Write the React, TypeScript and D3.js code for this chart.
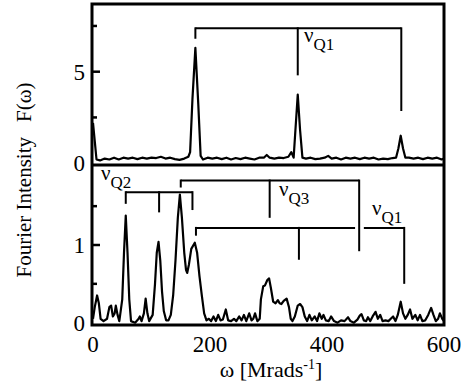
import * as d3 from 'd3';

// spectra: [omega, F]
const topSpectrum: [number, number][] = [
  [0, 2.2], [3, 1.2], [6, 0.2], [12, 0.15], [20, 0.25], [28, 0.2], [36, 0.3], [44, 0.2], [52, 0.3],
  [60, 0.25], [68, 0.3], [76, 0.22], [84, 0.3], [92, 0.25], [100, 0.3], [108, 0.28], [116, 0.35],
  [124, 0.25], [132, 0.3], [140, 0.22], [148, 0.18], [156, 0.25], [163, 0.35], [166, 0.6], [170, 3.5],
  [175, 6.3], [180, 3.2], [184, 0.4], [188, 0.2], [196, 0.3], [204, 0.25], [212, 0.3], [220, 0.22],
  [228, 0.3], [236, 0.2], [244, 0.28], [252, 0.22], [260, 0.3], [268, 0.25], [276, 0.2], [284, 0.3],
  [292, 0.3], [297, 0.45], [302, 0.3], [310, 0.25], [318, 0.3], [326, 0.28], [334, 0.35], [339, 0.6],
  [343, 0.3], [346, 1.8], [350, 3.75], [354, 1.8], [358, 0.3], [364, 0.25], [372, 0.3], [380, 0.22],
  [388, 0.25], [396, 0.3], [402, 0.4], [408, 0.25], [416, 0.3], [424, 0.2], [432, 0.3], [440, 0.25],
  [448, 0.3], [456, 0.22], [464, 0.3], [472, 0.25], [480, 0.3], [488, 0.2], [496, 0.25], [504, 0.22],
  [512, 0.28], [518, 0.3], [522, 0.8], [526, 1.5], [530, 0.8], [534, 0.3], [540, 0.3], [548, 0.25],
  [556, 0.3], [564, 0.22], [572, 0.3], [580, 0.25], [588, 0.3], [596, 0.2], [600, 0.25],
];

const bottomSpectrum: [number, number][] = [
  [0, 0.05], [3, 0.2], [7, 0.35], [10, 0.25], [13, 0.05], [18, 0.02], [24, 0.05], [28, 0.2], [31, 0.22],
  [34, 0.08], [37, 0.12], [39, 0.22], [42, 0.1], [45, 0.02], [50, 0.3], [53, 0.9], [56, 1.38], [59, 0.9],
  [62, 0.3], [65, 0.02], [72, 0.0], [78, 0.05], [80, 0.08], [83, 0.02], [87, 0.12], [90, 0.31], [93, 0.12],
  [96, 0.02], [102, 0.1], [106, 0.5], [109, 0.9], [112, 1.04], [115, 0.8], [118, 0.4], [121, 0.15],
  [125, 0.03], [129, 0.03], [133, 0.1], [137, 0.35], [141, 0.8], [145, 1.35], [148.5, 1.65], [152, 1.35],
  [156, 0.9], [159, 0.68], [161, 0.64], [164, 0.75], [168, 0.95], [174, 1.03], [178, 0.9], [182, 0.6],
  [186, 0.35], [190, 0.12], [194, 0.03], [198, 0.05], [202, 0.02], [206, 0.08], [210, 0.02], [214, 0.1],
  [218, 0.03], [222, 0.04], [227, 0.17], [231, 0.03], [236, 0.02], [241, 0.05], [245, 0.02], [250, 0.08],
  [254, 0.03], [258, 0.1], [262, 0.02], [267, 0.12], [271, 0.03], [274, 0.05], [277, 0.12], [281, 0.02],
  [285, 0.05], [287, 0.3], [291, 0.47], [294, 0.48], [298, 0.55], [301, 0.57], [304, 0.45], [308, 0.27],
  [312, 0.25], [316, 0.29], [319, 0.25], [322, 0.24], [326, 0.28], [331, 0.31], [335, 0.2], [338, 0.05],
  [341, 0.02], [345, 0.08], [350, 0.22], [354, 0.24], [358, 0.2], [362, 0.08], [366, 0.02], [370, 0.1],
  [374, 0.03], [379, 0.08], [383, 0.02], [387, 0.12], [391, 0.05], [394, 0.1], [398, 0.03], [403, 0.02],
  [407, 0.08], [412, 0.02], [418, 0.0], [424, 0.03], [430, 0.02], [436, 0.07], [440, 0.02], [446, 0.0],
  [452, 0.04], [456, 0.09], [459, 0.11], [463, 0.03], [467, 0.02], [470, 0.07], [474, 0.02], [478, 0.08],
  [483, 0.14], [487, 0.05], [491, 0.1], [495, 0.02], [500, 0.03], [505, 0.02], [509, 0.05], [513, 0.08],
  [517, 0.02], [521, 0.1], [526, 0.27], [530, 0.12], [534, 0.05], [538, 0.1], [542, 0.17], [546, 0.05],
  [551, 0.1], [555, 0.03], [559, 0.1], [563, 0.02], [568, 0.03], [573, 0.1], [578, 0.19], [582, 0.1],
  [586, 0.02], [590, 0.05], [593, 0.12], [597, 0.05], [600, 0.02],
];

// frequency brackets: line positions, bar level, tick end levels
const topBrackets = [
  { name: 'Q1', pos: [175, 350, 527], bar: 7.37, ends: [6.8, 4.8, 2.85], label: [304, 42], gap: null as null | [number, number] },
];
const bottomBrackets = [
  { name: 'Q2', pos: [56, 113, 170], bar: 1.68, ends: [1.53, 1.42, 1.45], label: [101, 180], gap: null as null | [number, number] },
  { name: 'Q3', pos: [150, 302, 455], bar: 1.83, ends: [1.74, 1.35, 0.92], label: [279, 196], gap: null as null | [number, number] },
  { name: 'Q1', pos: [176, 352, 532], bar: 1.22, ends: [1.12, 0.81, 0.5], label: [372, 215], gap: [448, 463] as [number, number] },
];

const xTicks = [0, 200, 400, 600];
const topMajor = [0, 5];
const topMinor = [2.5, 7.5];
const bottomMajor = [0, 1];
const bottomMinor = [0.5, 1.5];

const W = 469;
const H = 392;
const L = 93;
const R = 444;
const T = 4;
const MID = 165;
const B = 325;
const FONT = '"Liberation Serif", "Times New Roman", serif';

export default function App() {
  const x = d3.scaleLinear().domain([0, 600]).range([L, R]);
  const yTop = d3.scaleLinear().domain([-0.1, 8.7]).range([MID, T]);
  const yBot = d3.scaleLinear().domain([-0.03, 2.03]).range([B, MID]);

  const line = (y: d3.ScaleLinear<number, number>) =>
    d3.line<[number, number]>().x((d) => x(d[0])).y((d) => y(d[1]));

  const drawBrackets = (list: typeof topBrackets, y: d3.ScaleLinear<number, number>) =>
    list.map((b) => {
      const x0 = x(b.pos[0]);
      const x1 = x(b.pos[b.pos.length - 1]);
      const yb = y(b.bar);
      return (
        <g key={b.name + b.pos[0]} stroke="#000" strokeWidth={2}>
          {b.gap ? (
            <>
              <line x1={x0} x2={x(b.gap[0])} y1={yb} y2={yb} />
              <line x1={x(b.gap[1])} x2={x1} y1={yb} y2={yb} />
            </>
          ) : (
            <line x1={x0} x2={x1} y1={yb} y2={yb} />
          )}
          {b.pos.map((p, i) => (
            <line key={p} x1={x(p)} x2={x(p)} y1={yb - 1} y2={y(b.ends[i])} />
          ))}
          <text x={b.label[0]} y={b.label[1]} stroke="none" fill="#000" fontSize={21} fontFamily={FONT}>
            ν
            <tspan dy={8} fontSize={17}>
              {b.name}
            </tspan>
          </text>
        </g>
      );
    });

  const yTicks = (major: number[], minor: number[], y: d3.ScaleLinear<number, number>) => (
    <g>
      {major.map((t) => (
        <g key={'M' + t}>
          {t !== 0 && <line x1={L} x2={L + 7} y1={y(t)} y2={y(t)} stroke="#000" strokeWidth={2.5} />}
          <text x={85} y={y(t)} dy="0.35em" textAnchor="end" fontSize={23} fontFamily={FONT}>
            {t}
          </text>
        </g>
      ))}
      {minor.map((t) => (
        <line key={'m' + t} x1={L} x2={L + 4} y1={y(t)} y2={y(t)} stroke="#000" strokeWidth={2.5} />
      ))}
    </g>
  );

  return (
    <svg width={W} height={H} style={{ position: 'absolute', left: 0, top: 0, background: '#fff' }}>
      <path d={line(yTop)(topSpectrum) ?? ''} fill="none" stroke="#000" strokeWidth={2.2} strokeLinejoin="round" />
      <path d={line(yBot)(bottomSpectrum) ?? ''} fill="none" stroke="#000" strokeWidth={2.2} strokeLinejoin="round" />

      {drawBrackets(topBrackets, yTop)}
      {drawBrackets(bottomBrackets, yBot)}

      <rect x={L - 1} y={T} width={R - L + 1} height={B - T} fill="none" stroke="#000" strokeWidth={3} />
      <line x1={L - 1} x2={R} y1={MID} y2={MID} stroke="#000" strokeWidth={3} />

      {yTicks(topMajor, topMinor, yTop)}
      {yTicks(bottomMajor, bottomMinor, yBot)}

      {xTicks.map((t) => (
        <text key={t} x={x(t)} y={352} textAnchor="middle" fontSize={23} fontFamily={FONT}>
          {t}
        </text>
      ))}
      <text x={271} y={377} textAnchor="middle" fontSize={22} fontFamily={FONT}>
        ω [Mrads
        <tspan dy={-8} fontSize={14}>
          -1
        </tspan>
        <tspan dy={8}>]</tspan>
      </text>
      <text
        transform="translate(31,180) rotate(-90)"
        textAnchor="middle"
        fontSize={21}
        fontFamily={FONT}
      >
        Fourier Intensity
        <tspan dx={15}>F(ω)</tspan>
      </text>
    </svg>
  );
}
